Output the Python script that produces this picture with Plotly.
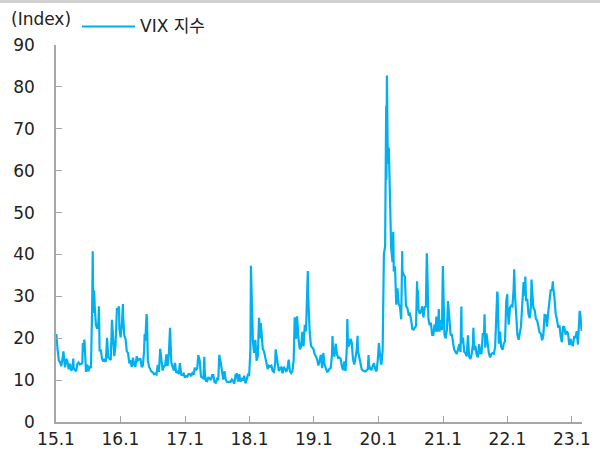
import plotly.graph_objects as go

# VIX index (date, close)
vix_2015 = [("2015-01-28", 20.44), ("2015-01-30", 20.97), ("2015-02-06", 17.29), ("2015-02-13", 14.69),
            ("2015-02-20", 14.30), ("2015-02-27", 13.34), ("2015-03-06", 15.20), ("2015-03-11", 16.87),
            ("2015-03-13", 16.00), ("2015-03-20", 13.02), ("2015-03-27", 15.07), ("2015-04-02", 14.67),
            ("2015-04-10", 12.58), ("2015-04-17", 13.89), ("2015-04-24", 12.29), ("2015-05-01", 12.70),
            ("2015-05-06", 15.15), ("2015-05-08", 12.86), ("2015-05-15", 12.38), ("2015-05-22", 12.13),
            ("2015-05-29", 13.84), ("2015-06-05", 14.21), ("2015-06-12", 13.78), ("2015-06-19", 13.96),
            ("2015-06-26", 14.02), ("2015-06-29", 18.85), ("2015-07-02", 16.79), ("2015-07-08", 19.66),
            ("2015-07-10", 16.83), ("2015-07-17", 11.95), ("2015-07-24", 13.74), ("2015-07-31", 12.12),
            ("2015-08-07", 13.39), ("2015-08-14", 12.83), ("2015-08-21", 28.03), ("2015-08-24", 40.74),
            ("2015-08-25", 36.02), ("2015-08-28", 26.05), ("2015-09-01", 31.40), ("2015-09-04", 27.80),
            ("2015-09-11", 23.20), ("2015-09-18", 22.28), ("2015-09-25", 23.62), ("2015-09-28", 27.63),
            ("2015-10-02", 17.08), ("2015-10-09", 17.08), ("2015-10-16", 15.05), ("2015-10-23", 14.46),
            ("2015-10-30", 15.07), ("2015-11-06", 14.33), ("2015-11-13", 20.08), ("2015-11-20", 15.47),
            ("2015-11-27", 15.12), ("2015-12-04", 14.81), ("2015-12-11", 24.39), ("2015-12-14", 22.73),
            ("2015-12-18", 20.70), ("2015-12-24", 15.74), ("2015-12-31", 18.21)]

vix_2016 = [("2016-01-08", 27.01), ("2016-01-15", 27.02), ("2016-01-20", 27.59), ("2016-01-22", 22.34),
            ("2016-01-29", 20.20), ("2016-02-05", 23.38), ("2016-02-11", 28.14), ("2016-02-12", 25.40),
            ("2016-02-19", 20.53), ("2016-02-26", 19.81), ("2016-03-04", 16.86), ("2016-03-11", 16.50),
            ("2016-03-18", 14.02), ("2016-03-24", 14.74), ("2016-04-01", 13.10), ("2016-04-08", 15.36),
            ("2016-04-15", 13.62), ("2016-04-22", 13.22), ("2016-04-29", 15.70), ("2016-05-06", 14.72),
            ("2016-05-13", 15.04), ("2016-05-20", 15.20), ("2016-05-27", 13.12), ("2016-06-03", 13.47),
            ("2016-06-10", 17.03), ("2016-06-13", 20.97), ("2016-06-17", 19.41), ("2016-06-24", 25.76),
            ("2016-06-27", 23.85), ("2016-07-01", 14.77), ("2016-07-08", 13.20), ("2016-07-15", 12.67),
            ("2016-07-22", 12.02), ("2016-07-29", 11.87), ("2016-08-05", 11.39), ("2016-08-12", 11.55),
            ("2016-08-19", 11.34), ("2016-08-26", 13.65), ("2016-09-02", 11.98), ("2016-09-09", 17.50),
            ("2016-09-16", 15.37), ("2016-09-23", 12.29), ("2016-09-30", 13.29), ("2016-10-07", 13.48),
            ("2016-10-14", 16.12), ("2016-10-21", 13.34), ("2016-10-28", 16.19), ("2016-11-04", 22.51),
            ("2016-11-11", 14.17), ("2016-11-18", 12.85), ("2016-11-25", 12.34), ("2016-12-02", 14.12),
            ("2016-12-09", 11.75), ("2016-12-16", 12.20), ("2016-12-23", 11.44), ("2016-12-30", 14.04)]

vix_2017 = [("2017-01-06", 11.32), ("2017-01-13", 11.23), ("2017-01-20", 11.54), ("2017-01-27", 10.58),
            ("2017-02-03", 10.97), ("2017-02-10", 10.85), ("2017-02-17", 11.49), ("2017-02-24", 11.47),
            ("2017-03-03", 10.96), ("2017-03-10", 11.66), ("2017-03-17", 11.28), ("2017-03-24", 12.96),
            ("2017-03-31", 12.37), ("2017-04-07", 12.87), ("2017-04-13", 15.96), ("2017-04-21", 14.63),
            ("2017-04-28", 10.82), ("2017-05-05", 10.57), ("2017-05-12", 10.40), ("2017-05-17", 15.59),
            ("2017-05-19", 12.04), ("2017-05-26", 9.81), ("2017-06-02", 9.75), ("2017-06-09", 10.70),
            ("2017-06-16", 10.38), ("2017-06-23", 10.02), ("2017-06-30", 11.18), ("2017-07-07", 11.19),
            ("2017-07-14", 9.51), ("2017-07-21", 9.36), ("2017-07-28", 10.29), ("2017-08-04", 10.03),
            ("2017-08-10", 16.04), ("2017-08-11", 15.51), ("2017-08-18", 14.26), ("2017-08-25", 11.28),
            ("2017-09-01", 10.13), ("2017-09-08", 12.12), ("2017-09-15", 10.17), ("2017-09-22", 9.59),
            ("2017-09-29", 9.51), ("2017-10-06", 9.65), ("2017-10-13", 9.61), ("2017-10-20", 10.15),
            ("2017-10-27", 9.80), ("2017-11-03", 9.14), ("2017-11-10", 11.29), ("2017-11-17", 11.43),
            ("2017-11-24", 9.67), ("2017-12-01", 11.43), ("2017-12-08", 9.58), ("2017-12-15", 10.49),
            ("2017-12-22", 9.90), ("2017-12-29", 11.04)]

vix_2018 = [("2018-01-05", 9.22), ("2018-01-12", 10.16), ("2018-01-19", 11.27), ("2018-01-26", 11.08),
            ("2018-02-02", 17.31), ("2018-02-05", 37.32), ("2018-02-08", 33.46), ("2018-02-09", 29.06),
            ("2018-02-16", 19.46), ("2018-02-23", 16.49), ("2018-03-02", 19.59), ("2018-03-09", 14.64),
            ("2018-03-16", 15.80), ("2018-03-23", 24.87), ("2018-03-29", 19.97), ("2018-04-02", 23.62),
            ("2018-04-06", 21.49), ("2018-04-13", 17.41), ("2018-04-20", 16.88), ("2018-04-27", 15.41),
            ("2018-05-04", 14.77), ("2018-05-11", 12.65), ("2018-05-18", 13.42), ("2018-05-25", 13.22),
            ("2018-06-01", 13.46), ("2018-06-08", 12.18), ("2018-06-15", 11.98), ("2018-06-22", 13.77),
            ("2018-06-25", 17.33), ("2018-06-29", 16.09), ("2018-07-06", 13.37), ("2018-07-13", 12.18),
            ("2018-07-20", 12.86), ("2018-07-27", 13.03), ("2018-08-03", 11.64), ("2018-08-10", 13.16),
            ("2018-08-17", 12.64), ("2018-08-24", 11.99), ("2018-08-31", 12.86), ("2018-09-07", 14.88),
            ("2018-09-14", 12.07), ("2018-09-21", 11.68), ("2018-09-28", 12.12), ("2018-10-05", 14.82),
            ("2018-10-11", 24.98), ("2018-10-12", 21.31), ("2018-10-19", 19.89), ("2018-10-24", 25.23),
            ("2018-10-26", 24.16), ("2018-11-02", 19.51), ("2018-11-09", 17.36), ("2018-11-16", 18.14),
            ("2018-11-23", 21.52), ("2018-11-30", 18.07), ("2018-12-07", 23.23), ("2018-12-14", 21.63),
            ("2018-12-21", 30.11), ("2018-12-24", 36.07), ("2018-12-26", 30.41), ("2018-12-28", 28.34)]

vix_2019 = [("2019-01-03", 25.45), ("2019-01-04", 21.38), ("2019-01-11", 18.19), ("2019-01-18", 17.80),
            ("2019-01-25", 17.42), ("2019-02-01", 16.14), ("2019-02-08", 15.72), ("2019-02-15", 14.91),
            ("2019-02-22", 13.51), ("2019-03-01", 14.63), ("2019-03-08", 16.05), ("2019-03-15", 12.88),
            ("2019-03-22", 16.48), ("2019-03-29", 13.71), ("2019-04-05", 12.82), ("2019-04-12", 12.01),
            ("2019-04-18", 12.09), ("2019-04-26", 12.73), ("2019-05-03", 12.87), ("2019-05-10", 16.04),
            ("2019-05-13", 20.55), ("2019-05-17", 15.96), ("2019-05-24", 15.85), ("2019-05-31", 18.71),
            ("2019-06-07", 16.30), ("2019-06-14", 15.28), ("2019-06-21", 15.40), ("2019-06-28", 15.08),
            ("2019-07-05", 13.28), ("2019-07-12", 12.39), ("2019-07-19", 14.45), ("2019-07-26", 12.16),
            ("2019-08-02", 17.61), ("2019-08-05", 24.59), ("2019-08-09", 17.97), ("2019-08-16", 18.47),
            ("2019-08-23", 19.87), ("2019-08-30", 18.98), ("2019-09-06", 15.00), ("2019-09-13", 13.74),
            ("2019-09-20", 15.32), ("2019-09-27", 17.22), ("2019-10-02", 20.56), ("2019-10-04", 17.04),
            ("2019-10-11", 15.58), ("2019-10-18", 14.25), ("2019-10-25", 12.65), ("2019-11-01", 12.30),
            ("2019-11-08", 12.07), ("2019-11-15", 12.05), ("2019-11-22", 12.34), ("2019-11-29", 12.62),
            ("2019-12-03", 15.96), ("2019-12-06", 13.62), ("2019-12-13", 12.63), ("2019-12-20", 12.51),
            ("2019-12-27", 13.43)]

vix_2020 = [("2020-01-03", 14.02), ("2020-01-10", 12.56), ("2020-01-17", 12.10), ("2020-01-24", 14.56),
            ("2020-01-31", 18.84), ("2020-02-07", 15.47), ("2020-02-14", 13.68), ("2020-02-21", 17.08),
            ("2020-02-24", 25.03), ("2020-02-28", 40.11), ("2020-03-06", 41.94), ("2020-03-09", 54.46),
            ("2020-03-12", 75.47), ("2020-03-13", 57.83), ("2020-03-16", 82.69), ("2020-03-18", 76.45),
            ("2020-03-20", 66.04), ("2020-03-23", 61.59), ("2020-03-27", 65.54), ("2020-04-01", 57.06),
            ("2020-04-03", 46.80), ("2020-04-09", 41.67), ("2020-04-17", 38.15), ("2020-04-21", 45.41),
            ("2020-04-24", 35.93), ("2020-05-01", 37.19), ("2020-05-08", 27.98), ("2020-05-15", 31.89),
            ("2020-05-22", 28.16), ("2020-05-29", 27.51), ("2020-06-05", 24.52), ("2020-06-11", 40.79),
            ("2020-06-12", 36.09), ("2020-06-19", 35.12), ("2020-06-26", 34.73), ("2020-07-02", 27.68),
            ("2020-07-10", 27.29), ("2020-07-17", 25.68), ("2020-07-24", 25.84), ("2020-07-31", 24.46),
            ("2020-08-07", 22.21), ("2020-08-14", 22.05), ("2020-08-21", 22.54), ("2020-08-28", 22.96),
            ("2020-09-03", 33.60), ("2020-09-04", 30.75), ("2020-09-08", 31.46), ("2020-09-11", 26.87),
            ("2020-09-18", 25.83), ("2020-09-25", 26.38), ("2020-10-02", 27.63), ("2020-10-09", 25.00),
            ("2020-10-16", 27.41), ("2020-10-23", 27.55), ("2020-10-28", 40.28), ("2020-10-30", 38.02),
            ("2020-11-06", 24.86), ("2020-11-13", 23.10), ("2020-11-20", 23.70), ("2020-11-27", 20.84),
            ("2020-12-04", 20.79), ("2020-12-11", 23.31), ("2020-12-18", 21.57), ("2020-12-21", 25.16),
            ("2020-12-24", 21.53), ("2020-12-31", 22.75)]

vix_2021 = [("2021-01-04", 26.97), ("2021-01-08", 21.56), ("2021-01-15", 24.34), ("2021-01-22", 21.91),
            ("2021-01-27", 37.21), ("2021-01-29", 33.09), ("2021-02-05", 20.87), ("2021-02-12", 19.97),
            ("2021-02-19", 22.05), ("2021-02-25", 28.89), ("2021-02-26", 27.95), ("2021-03-05", 24.66),
            ("2021-03-12", 20.69), ("2021-03-19", 20.95), ("2021-03-26", 18.86), ("2021-04-01", 17.33),
            ("2021-04-09", 16.69), ("2021-04-16", 16.25), ("2021-04-23", 17.33), ("2021-04-30", 18.61),
            ("2021-05-07", 16.69), ("2021-05-12", 27.59), ("2021-05-14", 18.81), ("2021-05-21", 20.15),
            ("2021-05-28", 16.76), ("2021-06-04", 16.42), ("2021-06-11", 15.65), ("2021-06-18", 20.70),
            ("2021-06-25", 15.62), ("2021-07-02", 15.07), ("2021-07-09", 16.18), ("2021-07-16", 18.45),
            ("2021-07-19", 22.50), ("2021-07-23", 17.20), ("2021-07-30", 18.24), ("2021-08-06", 16.15),
            ("2021-08-13", 15.45), ("2021-08-20", 18.56), ("2021-08-27", 16.39), ("2021-09-03", 16.41),
            ("2021-09-10", 20.95), ("2021-09-17", 20.81), ("2021-09-20", 25.71), ("2021-09-24", 17.75),
            ("2021-10-01", 21.15), ("2021-10-08", 18.77), ("2021-10-15", 16.30), ("2021-10-22", 15.43),
            ("2021-10-29", 16.26), ("2021-11-05", 16.48), ("2021-11-12", 16.29), ("2021-11-19", 17.91),
            ("2021-11-26", 28.62), ("2021-12-01", 31.12), ("2021-12-03", 30.67), ("2021-12-10", 18.69),
            ("2021-12-17", 21.57), ("2021-12-23", 17.96), ("2021-12-31", 17.22)]

vix_2022 = [("2022-01-07", 18.76), ("2022-01-14", 19.19), ("2022-01-21", 28.85), ("2022-01-27", 30.49),
            ("2022-01-28", 27.66), ("2022-02-04", 23.22), ("2022-02-11", 27.36), ("2022-02-18", 27.75),
            ("2022-02-25", 27.59), ("2022-03-04", 31.98), ("2022-03-07", 36.45), ("2022-03-11", 30.75),
            ("2022-03-18", 23.87), ("2022-03-25", 20.81), ("2022-04-01", 19.63), ("2022-04-08", 21.16),
            ("2022-04-14", 22.70), ("2022-04-22", 28.21), ("2022-04-29", 33.40), ("2022-05-06", 30.19),
            ("2022-05-09", 34.75), ("2022-05-13", 28.87), ("2022-05-20", 29.43), ("2022-05-27", 25.72),
            ("2022-06-03", 24.79), ("2022-06-10", 27.75), ("2022-06-13", 34.02), ("2022-06-17", 31.13),
            ("2022-06-24", 27.23), ("2022-07-01", 26.70), ("2022-07-08", 24.64), ("2022-07-15", 24.23),
            ("2022-07-22", 23.03), ("2022-07-29", 21.33), ("2022-08-05", 21.15), ("2022-08-12", 19.53),
            ("2022-08-19", 20.60), ("2022-08-26", 25.56), ("2022-09-02", 25.47), ("2022-09-09", 22.79),
            ("2022-09-16", 26.30), ("2022-09-23", 29.92), ("2022-09-30", 31.62), ("2022-10-07", 31.36),
            ("2022-10-12", 33.57), ("2022-10-14", 32.02), ("2022-10-21", 29.69), ("2022-10-28", 25.75),
            ("2022-11-04", 24.55), ("2022-11-11", 22.52), ("2022-11-18", 23.12), ("2022-11-25", 20.50),
            ("2022-12-02", 19.06), ("2022-12-09", 22.83), ("2022-12-16", 22.62), ("2022-12-23", 20.87),
            ("2022-12-30", 21.67)]

vix_2023 = [("2023-01-06", 21.13), ("2023-01-13", 18.35), ("2023-01-20", 19.85), ("2023-01-27", 18.51),
            ("2023-02-03", 18.33), ("2023-02-10", 20.53), ("2023-02-17", 20.02), ("2023-02-24", 21.67),
            ("2023-03-03", 18.49), ("2023-03-10", 24.80), ("2023-03-13", 26.52), ("2023-03-17", 25.51),
            ("2023-03-24", 21.74)]

tick_dates = ["2015-01-28", "2016-01-28", "2017-01-28", "2018-01-28", "2019-01-28",
              "2020-01-28", "2021-01-28", "2022-01-28", "2023-01-28"]
tick_labels = ["15.1", "16.1", "17.1", "18.1", "19.1", "20.1", "21.1", "22.1", "23.1"]
y_ticks = [0, 10, 20, 30, 40, 50, 60, 70, 80, 90]

series_name = "VIX 지수"
unit_label = "(Index)"

rows = vix_2015 + vix_2016 + vix_2017 + vix_2018 + vix_2019 + vix_2020 + vix_2021 + vix_2022 + vix_2023
dates = [d for d, _ in rows]
values = [v for _, v in rows]

LINE = "#00B0F0"
AXIS = "#A6A6A6"
TEXT = "#222222"
FONT = "DejaVu Sans, Noto Sans CJK KR, sans-serif"

fig = go.Figure()
fig.add_trace(go.Scatter(x=dates, y=values, mode="lines", name=series_name,
                         line=dict(color=LINE, width=2.2), showlegend=False))

W, H = 600, 450
ml, mr, mt, mb = 56, 18, 45, 28
pw, ph = W - ml - mr, H - mt - mb

def px_x(px):
    return (px - ml) / pw

def px_y(py):
    return 1 + (mt - py) / ph

fig.update_layout(
    width=W, height=H,
    margin=dict(l=ml, r=mr, t=mt, b=mb, autoexpand=False),
    paper_bgcolor="white", plot_bgcolor="white",
    font=dict(family=FONT, size=17, color=TEXT),
    xaxis=dict(type="date", range=["2015-01-28", "2023-03-26"], automargin=False,
               tickmode="array", tickvals=tick_dates, ticktext=tick_labels,
               ticks="inside", ticklen=6, tickcolor=AXIS, tickwidth=1,
               showline=True, linecolor=AXIS, linewidth=1.5,
               showgrid=False, zeroline=False, ticklabelstandoff=1),
    yaxis=dict(range=[0, 90], tickmode="array", tickvals=y_ticks, automargin=False,
               ticks="inside", ticklen=6, tickcolor=AXIS, tickwidth=1,
               showline=True, linecolor=AXIS, linewidth=1.5,
               showgrid=False, zeroline=False, ticklabelstandoff=16),
    showlegend=False,
)

# top border line of the picture
fig.add_shape(type="line", xref="paper", yref="paper",
              x0=px_x(0), x1=px_x(W), y0=px_y(1.5), y1=px_y(1.5),
              line=dict(color="#D0D0D0", width=3))
# legend key
fig.add_shape(type="line", xref="paper", yref="paper",
              x0=px_x(82), x1=px_x(135), y0=px_y(26.5), y1=px_y(26.5),
              line=dict(color=LINE, width=2))
fig.add_annotation(text=series_name, xref="paper", yref="paper",
                   x=px_x(138), y=px_y(26.5), xanchor="left", yanchor="middle",
                   showarrow=False, font=dict(size=17, color=TEXT))
fig.add_annotation(text=unit_label, xref="paper", yref="paper",
                   x=px_x(9), y=px_y(19), xanchor="left", yanchor="middle",
                   showarrow=False, font=dict(size=17, color=TEXT))

fig.write_html("out.html", config={"displayModeBar": False},
               post_script="document.body.style.margin='0';document.body.style.overflow='hidden';")
